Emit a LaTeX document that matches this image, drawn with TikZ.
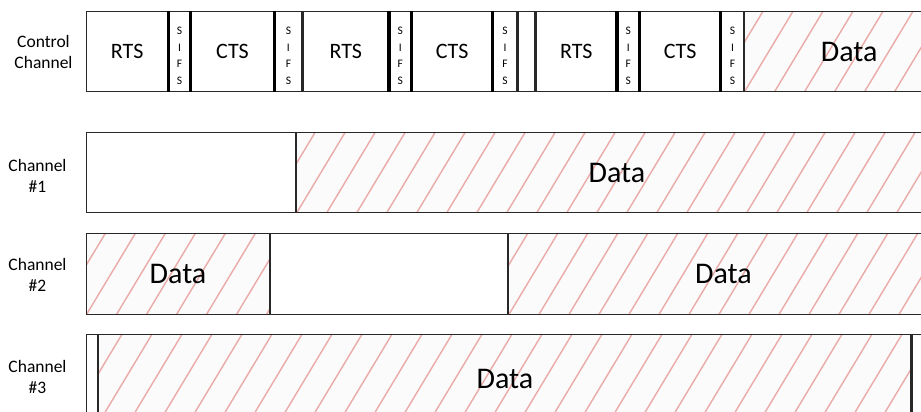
\documentclass[tikz,border=0pt]{standalone}
\usepackage{fontspec}
\setmainfont{Carlito}
\usepackage{tikz}
\usepackage{xcolor}

\definecolor{framegray}{RGB}{40,40,40}
\definecolor{hatchpink}{RGB}{234,170,166}
\definecolor{datafill}{RGB}{251,251,251}

\begin{document}
\begin{tikzpicture}[x=1pt,y=-1pt,
  seg/.style={draw=framegray,line width=1.4pt,inner sep=0pt,anchor=north west,minimum height=80pt},
  ctl/.style={seg,font=\fontsize{22}{24}\selectfont},
  sifs/.style={seg,label={[sifstext]center:S\\I\\F\\S}},
  sifstext/.style={align=center,inner sep=0pt,yshift=-4pt,font=\fontsize{11.5}{16.5}\selectfont},
  hatched/.style={seg,line width=1pt,fill=datafill,font=\fontsize{30}{34}\selectfont,
    path picture={\foreach \k in {-150,-120,...,930}
      \draw[hatchpink,line width=1.4pt] ([xshift=\k pt]path picture bounding box.south west) -- ++(130,-216);}},
  sepbar/.style={black,line width=3.2pt},
  chlabel/.style={align=center,font=\fontsize{17.5}{21}\selectfont}]
  \useasboundingbox (0,0) rectangle (921,412);
  \clip (0,0) rectangle (921,412);

  % channel names
  \node[chlabel] (lblctl) at (43.5,52) {Control\\Channel};
  \node[chlabel] (lblch1) at (37.5,176) {Channel\\\#1};
  \node[chlabel] (lblch2) at (37.5,275) {Channel\\\#2};
  \node[chlabel] (lblch3) at (37.5,377) {Channel\\\#3};

  % control channel
  \node[ctl,minimum width=81pt] (rts1) at (86,11) {RTS};
  \node[sifs,minimum width=21pt] (sifs1) at (rts1.north east) {};
  \node[ctl,minimum width=82pt] (cts1) at (sifs1.north east) {CTS};
  \node[sifs,minimum width=27pt] (sifs2) at (cts1.north east) {};
  \node[ctl,minimum width=85pt] (rts2) at (sifs2.north east) {RTS};
  \node[sifs,minimum width=21pt] (sifs3) at (rts2.north east) {};
  \node[ctl,minimum width=80pt] (cts2) at (sifs3.north east) {CTS};
  \node[sifs,minimum width=23pt] (sifs4) at (cts2.north east) {};
  \node[seg,minimum width=17pt] (gap) at (sifs4.north east) {};
  \node[ctl,minimum width=80pt] (rts3) at (gap.north east) {RTS};
  \node[sifs,minimum width=21pt] (sifs5) at (rts3.north east) {};
  \node[ctl,minimum width=80pt] (cts3) at (sifs5.north east) {CTS};
  \node[sifs,minimum width=22pt] (sifs6) at (cts3.north east) {};
  \node[hatched,minimum width=209pt] (data0) at (sifs6.north east) {Data};
  \foreach \n in {rts1,sifs1,cts1,rts2,sifs3,cts2,rts3,sifs5,cts3}
    \draw[sepbar] (\n.north east) -- (\n.south east);

  % channel 1
  \node[seg,minimum width=209pt] (idle1) at (86,132) {};
  \node[hatched,minimum width=640pt] (data1) at (idle1.north east) {Data};

  % channel 2
  \node[hatched,minimum width=183pt,minimum height=81pt] (data2a) at (86,233) {Data};
  \node[seg,minimum width=237pt,minimum height=81pt] (idle2) at (data2a.north east) {};
  \node[hatched,minimum width=429pt,minimum height=81pt] (data2b) at (idle2.north east) {Data};

  % channel 3
  \node[seg,minimum width=11pt,minimum height=88pt] (idle3a) at (86,334) {};
  \node[hatched,minimum width=812pt,minimum height=88pt] (data3) at (idle3a.north east) {Data};
  \node[seg,minimum width=26pt,minimum height=88pt] (idle3b) at (data3.north east) {};
\end{tikzpicture}
\end{document}
